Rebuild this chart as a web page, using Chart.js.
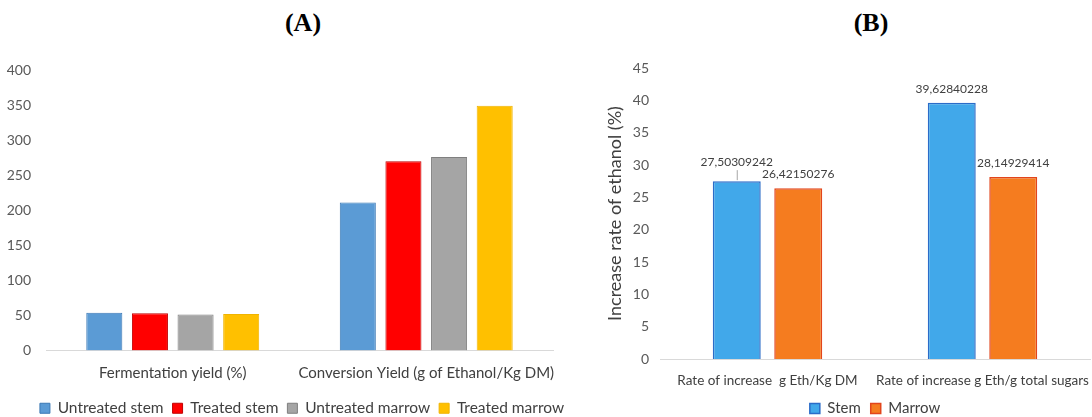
<!DOCTYPE html>
<html><head><meta charset="utf-8">
<script src="https://cdn.jsdelivr.net/npm/chart.js@4/dist/chart.umd.min.js"></script>
<style>
body{margin:0;width:1092px;height:417px;background:#fff;position:relative;overflow:hidden}
.t{position:absolute;top:8px;width:100px;text-align:center;font-family:"Liberation Serif";font-weight:bold;font-size:26px;color:#000}
#wa{position:absolute;left:0;top:50px;width:604px;height:376px}
#wb{position:absolute;left:600px;top:50px;width:492px;height:376px}
</style></head><body>
<div class="t" style="left:253px">(A)</div>
<div class="t" style="left:821px">(B)</div>
<div id="wa"><canvas id="ca"></canvas></div>
<div id="wb"><canvas id="cb"></canvas></div>
<script>
// Panel A
const catsA = ["Fermentation yield (%)", "Conversion Yield (g of Ethanol/Kg DM)"];
const untreatedStem = [54, 211];
const treatedStem = [53, 270];
const untreatedMarrow = [51.5, 276];
const treatedMarrow = [52, 349];
const ticksA = {min: 0, max: 400, step: 50};

// Panel B
const catsB = ["Rate of increase  g Eth/Kg DM", "Rate of increase g Eth/g total sugars"];
const stem = [27.50309242, 39.62840228];
const marrow = [26.42150276, 28.14929414];
const labelsStem = ["27,50309242", "39,62840228"];
const labelsMarrow = ["26,42150276", "28,14929414"];
const ticksB = {min: 0, max: 45, step: 5};

const FONT = 'Lato';

new Chart(document.getElementById('ca'), {
  type: 'bar',
  data: {
    labels: catsA,
    datasets: [
      {label: 'Untreated stem', data: untreatedStem, backgroundColor: '#5B9BD5', borderColor: '#3B78B5', borderWidth: 1},
      {label: 'Treated stem', data: treatedStem, backgroundColor: '#FF0000', borderColor: '#C00000', borderWidth: 1},
      {label: 'Untreated marrow', data: untreatedMarrow, backgroundColor: '#A5A5A5', borderColor: '#7F7F7F', borderWidth: 1},
      {label: 'Treated marrow', data: treatedMarrow, backgroundColor: '#FFC000', borderColor: '#F0B400', borderWidth: 1}
    ]
  },
  options: {
    responsive: true, maintainAspectRatio: false, animation: false,
    layout: {padding: {left: 0, right: 0, top: 20, bottom: 0}},
    datasets: {bar: {categoryPercentage: 0.72, barPercentage: 0.79}},
    scales: {
      x: {
        grid: {display: false, drawTicks: false},
        border: {color: '#D9D9D9', width: 1},
        ticks: {color: '#404040', font: {family: FONT, size: 15}, padding: 14, maxRotation: 0, autoSkip: false},
        afterFit(s) { s.height = 41; s.paddingLeft = 0; s.paddingRight = 51; }
      },
      y: {
        min: ticksA.min, max: ticksA.max,
        ticks: {stepSize: ticksA.step, color: '#595959', font: {family: FONT, size: 14}, padding: 7},
        grid: {display: false},
        border: {display: false},
        afterFit(s) { s.width = 46; }
      }
    },
    plugins: {
      legend: {
        position: 'bottom',
        labels: {boxWidth: 10, boxHeight: 10, font: {family: FONT, size: 15.5}, color: '#404040', padding: 9}
      },
      tooltip: {enabled: false}
    }
  }
});

const valueLabels = {
  id: 'valueLabels',
  afterDatasetsDraw(chart) {
    const ctx = chart.ctx;
    const texts = [labelsStem, labelsMarrow];
    ctx.save();
    ctx.font = '12px ' + FONT;
    ctx.fillStyle = '#404040';
    ctx.textAlign = 'center';
    ctx.textBaseline = 'middle';
    chart.data.datasets.forEach((ds, di) => {
      chart.getDatasetMeta(di).data.forEach((bar, i) => {
        const leader = (di === 0 && i === 0);
        const off = leader ? 19 : 14;
        const y = bar.y - off;
        ctx.fillText(texts[di][i], bar.x, y);
        if (leader) {
          ctx.strokeStyle = '#A6A6A6';
          ctx.lineWidth = 1;
          ctx.beginPath();
          ctx.moveTo(bar.x + 0.5, y + 8);
          ctx.lineTo(bar.x + 0.5, bar.y - 1);
          ctx.stroke();
        }
      });
    });
    ctx.restore();
  }
};

new Chart(document.getElementById('cb'), {
  type: 'bar',
  data: {
    labels: catsB,
    datasets: [
      {label: 'Stem', data: stem, backgroundColor: '#41A8EA', borderColor: '#2B6CC8', borderWidth: 1.5},
      {label: 'Marrow', data: marrow, backgroundColor: '#F57C1F', borderColor: '#E2451B', borderWidth: 1.5}
    ]
  },
  options: {
    responsive: true, maintainAspectRatio: false, animation: false,
    layout: {padding: {left: 0, right: 2, top: 18, bottom: 0}},
    datasets: {bar: {categoryPercentage: 0.572, barPercentage: 0.78}},
    scales: {
      x: {
        grid: {display: false, drawTicks: false},
        border: {color: '#D9D9D9', width: 1},
        ticks: {color: '#404040', font: {family: FONT, size: 13.5}, padding: 14, maxRotation: 0, minRotation: 0, autoSkip: false},
        afterFit(s) { s.height = 32; s.paddingLeft = 0; s.paddingRight = 0; }
      },
      y: {
        min: ticksB.min, max: ticksB.max,
        ticks: {stepSize: ticksB.step, color: '#595959', font: {family: FONT, size: 14}, padding: 3},
        grid: {display: false},
        border: {display: false},
        title: {display: true, text: 'Increase rate of ethanol (%)', color: '#404040', font: {family: FONT, size: 18}, padding: {top: 4, bottom: 0}},
        afterFit(s) { s.width = 60; }
      }
    },
    plugins: {
      legend: {
        position: 'bottom', fullSize: false,
        labels: {boxWidth: 10, boxHeight: 10, font: {family: FONT, size: 15}, color: '#404040', padding: 10}
      },
      tooltip: {enabled: false}
    }
  },
  plugins: [valueLabels]
});
</script>
</body></html>
